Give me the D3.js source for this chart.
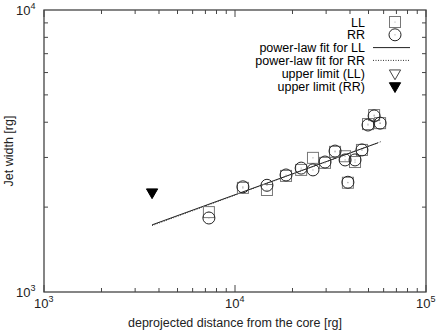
<!DOCTYPE html>
<meta charset="utf-8">
<style>
body { margin: 0; background: #fff; }
svg { font-family: "Liberation Sans", Arial, sans-serif; }
.frame { fill: none; stroke: #444; stroke-width: 1.3px; }
.tick { stroke: #444; stroke-width: 1px; }
.lab { font-size: 13px; fill: #222; }
.leg { font-size: 12.5px; fill: #000; }
</style>
<svg width="436" height="333"></svg>
<script src="https://d3js.org/d3.v7.min.js"></script>
<script>

// distance [rg]
var distance = [7300, 11000, 14700, 18500, 22200, 25600, 29600, 33400, 37700, 39000, 42500, 46200, 49700, 53500, 57500];
// width [rg]
var widthLL = [1920, 2340, 2300, 2580, 2710, 2990, 2870, 3140, 3030, 2440, 2890, 3190, 3940, 4240, 3970];
var widthRR = [1830, 2360, 2390, 2600, 2750, 2710, 2890, 3160, 2940, 2450, 2940, 3190, 3910, 4210, 3970];

var upperLL = [];
var upperRR = [[3680, 2260]];

// fit line end points [distance, width]
var fitLL = [[3680, 1730], [56000, 3380]];
var fitRR = [[3680, 1720], [58500, 3420]];

var xTicks = [1e3, 1e4, 1e5];
var yTicks = [1e3, 1e4];

var legendLabels = ["LL", "RR", "power-law fit for LL", "power-law fit for RR", "upper limit (LL)", "upper limit (RR)"];

var svg = d3.select("svg");
var pLeft = 44, pRight = 426, pTop = 10, pBottom = 292;

var x = d3.scaleLog().domain([1e3, 1e5]).range([pLeft, pRight]);
var y = d3.scaleLog().domain([1e3, 1e4]).range([pBottom, pTop]);

// minor ticks
var xMinor = [], yMinor = [];
[1e3, 1e4].forEach(function(b) { for (var i = 2; i < 10; i++) xMinor.push(b * i); });
for (var i = 2; i < 10; i++) yMinor.push(1e3 * i);

var g = svg.append("g");
xMinor.forEach(function(v) {
  g.append("line").attr("class", "tick").attr("x1", x(v)).attr("x2", x(v)).attr("y1", pBottom).attr("y2", pBottom - 4);
  g.append("line").attr("class", "tick").attr("x1", x(v)).attr("x2", x(v)).attr("y1", pTop).attr("y2", pTop + 4);
});
xTicks.forEach(function(v) {
  g.append("line").attr("class", "tick").attr("x1", x(v)).attr("x2", x(v)).attr("y1", pBottom).attr("y2", pBottom - 7);
  g.append("line").attr("class", "tick").attr("x1", x(v)).attr("x2", x(v)).attr("y1", pTop).attr("y2", pTop + 7);
});
yMinor.forEach(function(v) {
  g.append("line").attr("class", "tick").attr("y1", y(v)).attr("y2", y(v)).attr("x1", pLeft).attr("x2", pLeft + 4);
  g.append("line").attr("class", "tick").attr("y1", y(v)).attr("y2", y(v)).attr("x1", pRight).attr("x2", pRight - 4);
});

g.append("rect").attr("class", "frame")
  .attr("x", pLeft).attr("y", pTop).attr("width", pRight - pLeft).attr("height", pBottom - pTop);

// tick labels
function pow10(sel, v) {
  sel.append("tspan").text("10");
  sel.append("tspan").attr("dy", -6).attr("font-size", "9px").text(Math.round(Math.log10(v)));
}
xTicks.forEach(function(v) {
  var t = svg.append("text").attr("class", "lab").attr("x", x(v) - 10).attr("y", 308);
  pow10(t, v);
});
yTicks.forEach(function(v) {
  var t = svg.append("text").attr("class", "lab").attr("x", 16).attr("y", y(v) + 5);
  pow10(t, v);
});

svg.append("text").attr("class", "lab").attr("x", (pLeft + pRight) / 2).attr("y", 327)
  .attr("text-anchor", "middle").style("font-size", "12.5px").text("deprojected distance from the core [rg]");
svg.append("text").attr("class", "lab").attr("transform", "translate(13," + ((pTop + pBottom) / 2) + ") rotate(-90)")
  .attr("text-anchor", "middle").style("font-size", "12.5px").text("Jet width [rg]");

// fit lines
var line = d3.line().x(function(d) { return x(d[0]); }).y(function(d) { return y(d[1]); });
svg.append("path").datum(fitLL).attr("d", line).attr("fill", "none").attr("stroke", "#222").attr("stroke-width", 1);
svg.append("path").datum(fitRR).attr("d", line).attr("fill", "none").attr("stroke", "#333").attr("stroke-width", 1).attr("stroke-dasharray", "1,1.5");

var tri = d3.symbol().type(d3.symbolTriangle).size(55);

function square(sel, cx, cy) {
  sel.append("rect").attr("x", cx - 5.5).attr("y", cy - 5.5).attr("width", 11).attr("height", 11)
    .attr("fill", "none").attr("stroke", "#777").attr("stroke-width", 1);
  sel.append("circle").attr("cx", cx).attr("cy", cy).attr("r", 0.6).attr("fill", "#999");
}
function circ(sel, cx, cy) {
  sel.append("circle").attr("cx", cx).attr("cy", cy).attr("r", 6)
    .attr("fill", "none").attr("stroke", "#222").attr("stroke-width", 1);
  sel.append("circle").attr("cx", cx).attr("cy", cy).attr("r", 0.6).attr("fill", "#999");
}
function triangle(sel, cx, cy, filled) {
  sel.append("path").attr("d", tri).attr("transform", "translate(" + cx + "," + cy + ") rotate(180)")
    .attr("fill", filled ? "#000" : "none").attr("stroke", filled ? "#000" : "#444").attr("stroke-width", 1);
}

var pts = svg.append("g");
distance.forEach(function(d, i) { square(pts, x(d), y(widthLL[i])); });
distance.forEach(function(d, i) { circ(pts, x(d), y(widthRR[i])); });
upperLL.forEach(function(d) { triangle(pts, x(d[0]), y(d[1]), false); });
upperRR.forEach(function(d) { triangle(pts, x(d[0]), y(d[1]), true); });

// legend
var lg = svg.append("g");
var ly = d3.scaleLinear().domain([0, 5]).range([22, 86]);
legendLabels.forEach(function(s, i) {
  lg.append("text").attr("class", "leg").attr("x", 365).attr("y", ly(i) + 4.5)
    .attr("text-anchor", "end").text(s);
});
square(lg, 395, ly(0));
circ(lg, 395, ly(1));
lg.append("line").attr("x1", 373).attr("x2", 410).attr("y1", ly(2)).attr("y2", ly(2)).attr("stroke", "#222");
lg.append("line").attr("x1", 373).attr("x2", 410).attr("y1", ly(3)).attr("y2", ly(3)).attr("stroke", "#333").attr("stroke-dasharray", "1,1.5");
triangle(lg, 395, ly(4), false);
triangle(lg, 395, ly(5), true);

</script>
